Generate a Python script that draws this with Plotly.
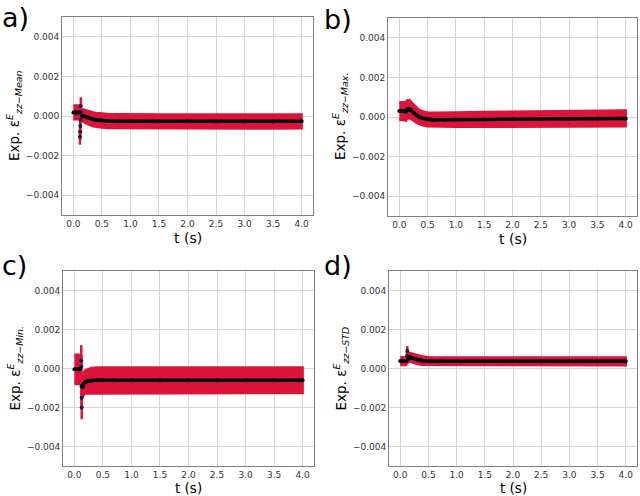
import plotly.graph_objects as go

RED = "#DC143C"
DOT = "#1b1b45"

# ---------------- data ----------------
# a) Mean
a_pl_t = [0.0, 0.02, 0.04, 0.06, 0.08, 0.10]
a_pl_v = [0.00018, 0.00018, 0.00018, 0.00018, 0.00018, 0.00018]
a_pl_e = [0.00035, 0.00035, 0.00035, 0.00035, 0.00035, 0.00035]
a_sp_t = [0.13, 0.127, 0.124, 0.121, 0.118, 0.115]
a_sp_v = [0.0005, 0.0002, -0.0002, -0.0005, -0.0008, -0.00105]
a_sp_e = [0.00045, 0.0004, 0.0004, 0.0004, 0.0004, 0.0004]
a_t = [0.15, 0.17, 0.2, 0.25, 0.3, 0.35, 0.4, 0.5, 0.6, 0.8, 1.0, 1.5, 2.0, 2.5, 3.0, 3.5, 4.0]
a_v = [0.0, 0.00003, -0.00002, -0.00008, -0.00013, -0.00017, -0.0002, -0.00023, -0.00025, -0.00026,
       -0.00027, -0.00027, -0.00027, -0.00028, -0.00028, -0.00028, -0.00027]
a_e = [0.0003, 0.0003, 0.00032, 0.00033, 0.00034, 0.00035, 0.00035, 0.00035, 0.00035, 0.00035,
       0.00035, 0.00035, 0.00035, 0.00035, 0.00035, 0.00035, 0.00035]

# b) Max.
b_pl_t = [0.0, 0.02, 0.04, 0.06, 0.08, 0.10]
b_pl_v = [0.0003, 0.0003, 0.0003, 0.0003, 0.0003, 0.0003]
b_pl_e = [0.00045, 0.00045, 0.00045, 0.00045, 0.00045, 0.00045]
b_sp_t = [0.12, 0.13, 0.14]
b_sp_v = [0.00025, 0.00035, 0.0004]
b_sp_e = [0.0005, 0.0005, 0.0005]
b_t = [0.15, 0.18, 0.2, 0.25, 0.3, 0.35, 0.4, 0.5, 0.6, 0.8, 1.0, 1.5, 2.0, 2.5, 3.0, 3.5, 4.0]
b_v = [0.00035, 0.0004, 0.00035, 0.00022, 0.0001, 0.0, -0.00006, -0.00012, -0.00014, -0.00014,
       -0.00013, -0.00012, -0.00011, -0.0001, -0.00009, -0.00008, -0.00007]
b_e = [0.00045, 0.00045, 0.00042, 0.0004, 0.00038, 0.00036, 0.00035, 0.00035, 0.00035, 0.00035,
       0.00036, 0.00037, 0.00038, 0.00038, 0.00039, 0.0004, 0.0004]

# c) Min.
c_pl_t = [0.0, 0.02, 0.04, 0.06, 0.08, 0.10]
c_pl_v = [-0.00004, -0.00004, -0.00004, -0.00004, -0.00004, -0.00004]
c_pl_e = [0.00075, 0.00075, 0.00075, 0.00075, 0.00075, 0.00075]
c_sp_t = [0.12, 0.122, 0.124, 0.126, 0.128]
c_sp_v = [0.0004, 0.0001, -0.0009, -0.0015, -0.002]
c_sp_e = [0.0008, 0.0006, 0.0006, 0.0006, 0.0006]
c_t = [0.14, 0.16, 0.18, 0.2, 0.25, 0.3, 0.4, 0.5, 0.7, 1.0, 1.5, 2.0, 2.5, 3.0, 3.5, 4.0]
c_v = [-0.00095, -0.0008, -0.00072, -0.00068, -0.00064, -0.00062, -0.0006, -0.0006, -0.0006,
       -0.0006, -0.0006, -0.0006, -0.0006, -0.0006, -0.0006, -0.0006]
c_e = [0.00052, 0.00056, 0.0006, 0.0006, 0.00063, 0.00065, 0.00065, 0.00065, 0.00065,
       0.00065, 0.00065, 0.00065, 0.00065, 0.00065, 0.00065, 0.00065]

# d) STD
d_pl_t = [0.0, 0.02, 0.04, 0.06, 0.08, 0.10]
d_pl_v = [0.00038, 0.00038, 0.00038, 0.00038, 0.00038, 0.00038]
d_pl_e = [0.0002, 0.0002, 0.0002, 0.0002, 0.0002, 0.0002]
d_sp_t = [0.115, 0.12, 0.125]
d_sp_v = [0.0004, 0.00065, 0.0009]
d_sp_e = [0.0002, 0.0002, 0.00025]
d_t = [0.14, 0.17, 0.2, 0.25, 0.3, 0.35, 0.4, 0.5, 0.7, 1.0, 1.5, 2.0, 2.5, 3.0, 3.5, 4.0]
d_v = [0.0005, 0.00058, 0.00055, 0.0005, 0.00045, 0.00042, 0.0004, 0.00038, 0.00037, 0.00037,
       0.00037, 0.00037, 0.00037, 0.00037, 0.00037, 0.00037]
d_e = [0.00022, 0.00022, 0.00022, 0.00022, 0.00022, 0.00021, 0.00021, 0.0002, 0.0002, 0.0002,
       0.0002, 0.0002, 0.0002, 0.0002, 0.0002, 0.0002]

panel_letters = ["a)", "b)", "c)", "d)"]
y_subs = ["zz\u2212Mean", "zz\u2212Max.", "zz\u2212Min.", "zz\u2212STD"]
x_ticks = [0.0, 0.5, 1.0, 1.5, 2.0, 2.5, 3.0, 3.5, 4.0]
y_ticks = [-0.004, -0.002, 0.0, 0.002, 0.004]

panels = [
    (a_pl_t, a_pl_v, a_pl_e, a_sp_t, a_sp_v, a_sp_e, a_t, a_v, a_e),
    (b_pl_t, b_pl_v, b_pl_e, b_sp_t, b_sp_v, b_sp_e, b_t, b_v, b_e),
    (c_pl_t, c_pl_v, c_pl_e, c_sp_t, c_sp_v, c_sp_e, c_t, c_v, c_e),
    (d_pl_t, d_pl_v, d_pl_e, d_sp_t, d_sp_v, d_sp_e, d_t, d_v, d_e),
]

# ---------------- layout geometry (pixels) ----------------
W, H = 640, 496
boxes = [  # x0, x1, ytop, ybottom
    (62, 313, 17, 215),
    (388, 637, 18, 216),
    (63, 314, 271, 466),
    (389, 637, 271, 466),
]
xtitle_y = [238, 239, 488, 488]
xtitle_size = [14, 14, 13.5, 13.5]
letter_pos = [(0, 0), (322, 2), (0, 248), (322, 248)]

FONT = "DejaVu Sans, Liberation Sans, sans-serif"
fig = go.Figure()


def band(t, v, e, xa, ya):
    up = [vi + ei for vi, ei in zip(v, e)]
    lo = [vi - ei for vi, ei in zip(v, e)]
    return go.Scatter(x=list(t) + list(t[::-1]), y=up + lo[::-1], fill="toself",
                      fillcolor=RED, line=dict(color=RED, width=2.5), mode="lines",
                      hoverinfo="skip", showlegend=False, xaxis=xa, yaxis=ya)


annotations = []
for i, (pt, pv, pe, st, sv, se, mt, mv, me) in enumerate(panels):
    n = "" if i == 0 else str(i + 1)
    xa, ya = "x" + n, "y" + n
    fig.add_trace(band(pt, pv, pe, xa, ya))
    fig.add_trace(band(mt, mv, me, xa, ya))
    fig.add_trace(go.Scatter(x=st, y=sv, mode="markers",
                             marker=dict(color=DOT, size=4),
                             error_y=dict(type="data", array=se, color=RED, thickness=2.5, width=0),
                             showlegend=False, xaxis=xa, yaxis=ya))
    fig.add_trace(go.Scatter(x=pt, y=pv, mode="lines+markers",
                             line=dict(color="black", width=3), marker=dict(color="black", size=4),
                             showlegend=False, xaxis=xa, yaxis=ya))
    fig.add_trace(go.Scatter(x=mt, y=mv, mode="lines+markers",
                             line=dict(color="black", width=3.5), marker=dict(color="black", size=4),
                             showlegend=False, xaxis=xa, yaxis=ya))

    x0, x1, yt, yb = boxes[i]
    axcommon = dict(showgrid=True, gridcolor="#d4d4d4", gridwidth=1, zeroline=False,
                    showline=True, linecolor="#808080", linewidth=1, mirror=True,
                    ticks="", tickfont=dict(family=FONT, size=9, color="#333333"))
    xkey = "xaxis" + n
    ykey = "yaxis" + n
    fig.layout[xkey] = dict(domain=[x0 / W, x1 / W], range=[-0.2, 4.2], anchor=ya,
                            tickvals=x_ticks, tickformat=".1f", **axcommon)
    fig.layout[ykey] = dict(domain=[1 - yb / H, 1 - yt / H], range=[-0.005, 0.005], anchor=xa,
                            tickvals=y_ticks, tickformat=".3f", **axcommon)

    # panel letter
    lx, ly = letter_pos[i]
    annotations.append(dict(text=panel_letters[i], x=lx / W, y=1 - ly / H, xref="paper", yref="paper",
                            xanchor="left", yanchor="top", showarrow=False,
                            font=dict(family=FONT, size=27, color="black")))
    # x title
    annotations.append(dict(text="t (s)", x=(x0 + x1) / 2 / W, y=1 - xtitle_y[i] / H, xref="paper",
                            yref="paper", xanchor="center", yanchor="middle", showarrow=False,
                            font=dict(family=FONT, size=xtitle_size[i], color="black")))
    # y title
    ytxt = "Exp. \u03b5<sup><i>E</i></sup><sub><i>" + y_subs[i] + "</i></sub>"
    annotations.append(dict(text=ytxt, x=(x0 - 48) / W, y=1 - (yt + yb) / 2 / H, xref="paper",
                            yref="paper", xanchor="center", yanchor="middle", textangle=-90,
                            showarrow=False, font=dict(family=FONT, size=13.5, color="black")))

fig.update_layout(width=W, height=H, margin=dict(l=0, r=0, t=0, b=0),
                  paper_bgcolor="white", plot_bgcolor="white",
                  annotations=annotations, showlegend=False)

fig.write_html("out.html", config={"displayModeBar": False},
               post_script="document.body.style.margin='0px';document.body.style.overflow='hidden';")
